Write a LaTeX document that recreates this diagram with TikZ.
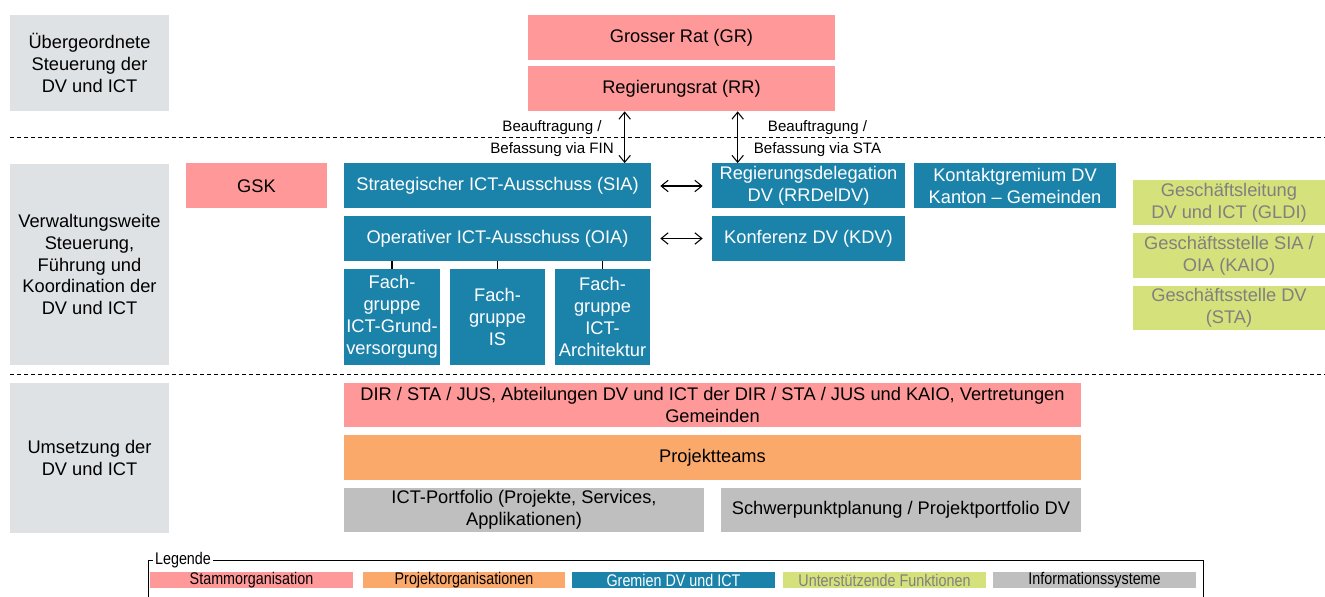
\documentclass[tikz,border=0pt]{standalone}
\usepackage{fontspec}
\setmainfont{Liberation Sans}
\newfontfamily\legfont[FakeStretch=0.85]{Liberation Sans}
\usepackage{tikz}
\usetikzlibrary{arrows.meta}

\definecolor{stammrot}{HTML}{FF9999}
\definecolor{projorange}{HTML}{FBA96B}
\definecolor{gremblau}{HTML}{1B83AA}
\definecolor{stuetzgruen}{HTML}{D5E17A}
\definecolor{infograu}{HTML}{BFBFBF}
\definecolor{ebenegrau}{HTML}{DFE2E5}

\begin{document}
\begin{tikzpicture}[x=0.02cm,y=-0.02cm,
	kasten/.style={rectangle,inner sep=1pt,align=center,minimum height=0.9cm,
		font=\fontsize{10.4}{12.5}\selectfont},
	ebene/.style={kasten,fill=ebenegrau,text=black,minimum width=3.18cm},
	stamm/.style={kasten,fill=stammrot,text=black},
	projorg/.style={kasten,fill=projorange,text=black},
	gremium/.style={kasten,fill=gremblau,text=white},
	stuetz/.style={kasten,fill=stuetzgruen,text=black!50,minimum width=3.84cm},
	infosys/.style={kasten,fill=infograu,text=black},
	fachgr/.style={gremium,minimum width=1.92cm,minimum height=1.92cm},
	legkasten/.style={minimum width=4.06cm,minimum height=0.32cm,inner sep=0pt,
		font=\legfont\fontsize{9.6}{11}\selectfont},
	trenner/.style={black,line width=0.5pt,dash pattern=on 2.3pt off 1.7pt},
	pfeil/.style={{Straight Barb[length=4pt,width=6.5pt]}-{Straight Barb[length=4pt,width=6.5pt]},line width=0.6pt},
	notiz/.style={align=center,inner sep=0pt,font=\fontsize{8.6}{12.5}\selectfont}]
						\useasboundingbox (0,0) rectangle (1325,597);
						% Ebenen
						\node[ebene,minimum height=1.92cm] (eb1) at (89.5,63) {\"Ubergeordnete\\Steuerung der\\DV und ICT};
						\node[ebene,minimum height=4.02cm] (eb2) at (89.5,264.5) {Verwaltungsweite\\Steuerung,\\F\"uhrung und\\Koordination der\\DV und ICT};
						\node[ebene,minimum height=3cm] (eb3) at (89.5,458) {Umsetzung der\\DV und ICT};
						\draw[trenner] (10,137) -- (1325,137);
						\draw[trenner] (10,374) -- (1325,374);
						% oben
						\node[stamm,minimum width=6.14cm] (gr) at (681.5,37.5) {Grosser Rat (GR)};
						\node[stamm,minimum width=6.14cm] (rr) at (681.5,88.5) {Regierungsrat (RR)};
						% Mitte
						\node[stamm,minimum width=2.82cm] (gsk) at (256.5,186) {GSK};
						\node[gremium,minimum width=6.14cm] (sia) at (497.5,186) {Strategischer ICT-Ausschuss (SIA)};
						\node[gremium,minimum width=6.14cm] (oia) at (497.5,238.5) {Operativer ICT-Ausschuss (OIA)};
						\node[gremium,minimum width=3.86cm] (rrdel) at (808.5,186) {Regierungsdelegation\\DV (RRDelDV)};
						\node[gremium,minimum width=3.86cm] (kdv) at (808.5,238.5) {Konferenz DV (KDV)};
						\node[gremium,minimum width=4.04cm] (kontakt) at (1015,186) {Kontaktgremium DV\\Kanton -- Gemeinden};
						\node[fachgr] (fg1) at (392,317) {Fach-\\gruppe\\ICT-Grund-\\versorgung};
						\node[fachgr] (fg2) at (497.5,317) {Fach-\\gruppe\\IS};
						\node[fachgr] (fg3) at (602.5,317) {Fach-\\gruppe\\ICT-\\Architektur};
						\foreach \f in {fg1,fg2,fg3}
						\draw[line width=0.6pt] (oia.south -| \f.north) -- (\f.north);
						\node[stuetz] (gldi) at (1229,203) {Gesch\"aftsleitung\\DV und ICT (GLDI)};
						\node[stuetz] (kaio) at (1229,255.5) {Gesch\"aftsstelle SIA /\\OIA (KAIO)};
						\node[stuetz] (gsdv) at (1229,308) {Gesch\"aftsstelle DV\\(STA)};
						% Pfeile
						\draw[pfeil] ([xshift=1.94cm]rr.south west) -- ([xshift=1.94cm]rr.south west |- sia.north);
						\draw[pfeil] ([xshift=0.52cm]rrdel.north west |- rr.south) -- ([xshift=0.52cm]rrdel.north west);
						\draw[pfeil,shorten <=0.18cm,shorten >=0.18cm] (sia.east) -- (rrdel.west);
						\draw[pfeil,shorten <=0.18cm,shorten >=0.18cm] (oia.east) -- (kdv.west);
						\node[notiz] (fin) at (552,139) {Beauftragung /\\Befassung via FIN};
						\node[notiz] (sta) at (817.5,139) {Beauftragung /\\Befassung via STA};
						% unten
						\node[stamm,minimum width=14.74cm] (dir) at (712.5,405) {DIR / STA / JUS, Abteilungen DV und ICT der DIR / STA / JUS und KAIO, Vertretungen\\Gemeinden};
						\node[projorg,minimum width=14.74cm] (proj) at (712.5,457.5) {Projektteams};
						\node[infosys,minimum width=7.2cm] (ictp) at (524,510) {ICT-Portfolio (Projekte, Services,\\Applikationen)};
						\node[infosys,minimum width=7.2cm] (schwer) at (901,510) {Schwerpunktplanung / Projektportfolio DV};
						% Legende
						\node[anchor=west,inner sep=1pt,font=\legfont\fontsize{9.6}{11}\selectfont] (legtitel) at (153,560) {Legende};
						\draw[line width=0.5pt] (legtitel.west) -- (148,560) -- (148,597);
						\draw[line width=0.5pt] (legtitel.east) -- (1203,560) -- (1203,597);
						\foreach \x/\sty/\txt [count=\i] in {251.5/stamm/Stammorganisation,464/projorg/Projektorganisationen,673.5/gremium/Gremien DV und ICT,884.5/stuetz/Unterst\"utzende Funktionen,1094.5/infosys/Informationssysteme}
						\node[\sty,legkasten] (leg\i) at (\x,580) {\txt};
					\end{tikzpicture}
\end{document}
